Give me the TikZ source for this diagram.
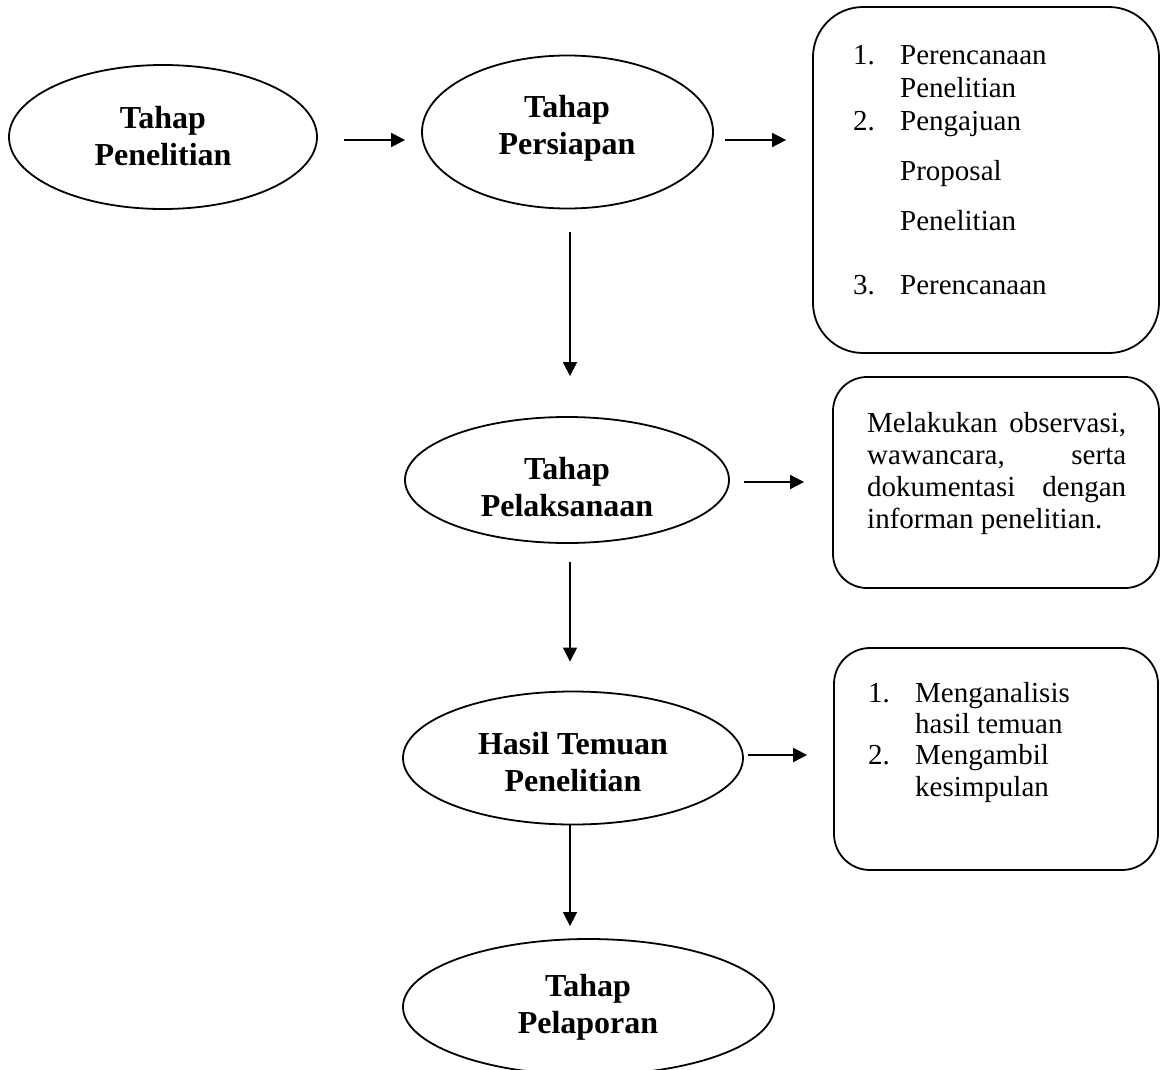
\documentclass[tikz,border=0pt]{standalone}
\usepackage{fontspec}
\setmainfont{Liberation Serif}
\usetikzlibrary{shapes.geometric,arrows.meta}
\begin{document}
\begin{tikzpicture}[x=1pt,y=-1pt,
  oval/.style={draw, ellipse, line width=1.8pt, inner sep=0pt},
  ovaltext/.style={align=center, font=\fontsize{32}{37}\selectfont\bfseries, inner sep=0pt},
  rbox/.style={draw, rectangle, line width=1.8pt, inner sep=0pt, rounded corners=#1},
  itemtext/.style={anchor=base west, inner sep=0pt, font=\fontsize{29}{33}\selectfont},
  harr/.style={line width=1.8pt, -{Triangle[length=14pt,width=14pt]}},
  varr/.style={line width=1.4pt, -{Triangle[length=14pt,width=14pt]}},
]
\useasboundingbox (0,0) rectangle (1160,1069);

% ellipses
\node[oval, minimum width=308pt, minimum height=144pt] (e1) at (163,137) {};
\node[oval, minimum width=291pt, minimum height=153pt] (e2) at (567.5,132) {};
\node[oval, minimum width=324pt, minimum height=126pt] (e3) at (567,480) {};
\node[oval, minimum width=340pt, minimum height=133pt] (e4) at (573,758) {};
\node[oval, minimum width=371pt, minimum height=136pt] (e5) at (588.5,1007) {};

\node[ovaltext] (t1) at (163,136.5) {Tahap\\Penelitian};
\node[ovaltext] (t2) at (567,128) {Tahap\\Persiapan};
\node[ovaltext] (t3) at (567,487) {Tahap\\Pelaksanaan};
\node[ovaltext] (t4) at (573,762) {Hasil Temuan\\Penelitian};
\node[ovaltext] (t5) at (588,1007) {Tahap\\Pelaporan};

% rounded boxes
\node[rbox=50pt, minimum width=346pt, minimum height=346pt] (b1) at (986,180) {};
\node[rbox=34pt, minimum width=326pt, minimum height=211pt] (b2) at (996,482.5) {};
\node[rbox=36pt, minimum width=324pt, minimum height=222pt] (b3) at (996,759) {};

% box 1 text
\node[itemtext] (p1n) at (853,64) {1.};
\node[itemtext] (p1) at (900,64) {Perencanaan};
\node[itemtext] (p2) at (900,97) {Penelitian};
\node[itemtext] (p3n) at (853,130) {2.};
\node[itemtext] (p3) at (900,130) {Pengajuan};
\node[itemtext] (p4) at (900,180) {Proposal};
\node[itemtext] (p5) at (900,230) {Penelitian};
\node[itemtext] (p6n) at (853,294) {3.};
\node[itemtext] (p6) at (900,294) {Perencanaan};

% box 2 text
\node[itemtext] (q1) at (867,432) {\makebox[259pt][s]{Melakukan observasi,}};
\node[itemtext] (q2) at (867,464) {\makebox[259pt][s]{wawancara, serta}};
\node[itemtext] (q3) at (867,496) {\makebox[259pt][s]{dokumentasi dengan}};
\node[itemtext] (q4) at (867,528) {informan penelitian.};

% box 3 text
\node[itemtext] (r1n) at (868,702) {1.};
\node[itemtext] (r1) at (915,702) {Menganalisis};
\node[itemtext] (r2) at (915,733) {hasil temuan};
\node[itemtext] (r3n) at (868,764) {2.};
\node[itemtext] (r3) at (915,764) {Mengambil};
\node[itemtext] (r4) at (915,796) {kesimpulan};

% connectors
\coordinate (a1) at (344,140);
\coordinate (a2) at (725,140);
\coordinate (v1) at (570,232);
\coordinate (a3) at (744,482);
\coordinate (v2) at (570,562);
\coordinate (a4) at (748,755);
\coordinate (v3) at (570,825);

\draw[harr, shorten >=16pt] (a1) -- (a1 -| e2.west);
\draw[harr, shorten >=26pt] (a2) -- (a2 -| b1.west);
\draw[varr, shorten >=40pt] (v1) -- (v1 |- e3.north);
\draw[harr, shorten >=28pt] (a3) -- (a3 -| b2.west);
\draw[varr, shorten >=29pt] (v2) -- (v2 |- e4.north);
\draw[harr, shorten >=26pt] (a4) -- (a4 -| b3.west);
\draw[varr, shorten >=12pt] (v3) -- (v3 |- e5.north);
\end{tikzpicture}
\end{document}
